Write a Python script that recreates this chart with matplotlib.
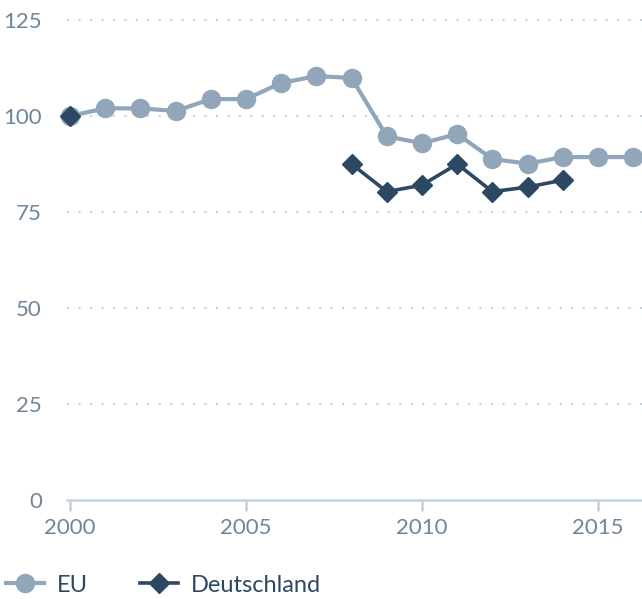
import numpy as np
import matplotlib
matplotlib.use("Agg")
import matplotlib.pyplot as plt
from matplotlib.lines import Line2D

years = list(range(2000, 2017))
eu = [100, 102, 102, 101.3, 104.4, 104.4, 108.6, 110.4, 109.9, 94.7, 92.9, 95.3, 88.8, 87.6, 89.3, 89.3, 89.3]
de = [100, np.nan, np.nan, np.nan, np.nan, np.nan, np.nan, np.nan, 87.5, 80.3, 82.0, 87.5, 80.3, 81.5, 83.3, np.nan, np.nan]
yticks = [0, 25, 50, 75, 100, 125]
xticks = [2000, 2005, 2010, 2015]
labels = ["EU", "Deutschland"]

EU_C = "#91a6b9"
DE_C = "#2c4863"
GRID_C = "#c3d1e4"
TXT_C = "#6f8599"

plt.rcParams['font.family'] = ['Lato', 'DejaVu Sans']

W, H = 642, 599
fig = plt.figure(figsize=(W/100, H/100), dpi=100)
ax = fig.add_axes([67/W, 99/H, (W-67)/W, 480/H])
x0 = 2000 - 3/35.2
ax.set_xlim(x0, 2000 + (W-70)/35.2)
ax.set_ylim(0, 125)

for v in yticks[1:]:
    ax.axhline(v, color=GRID_C, lw=1.5, ls=(0, (1, 4.5)), zorder=1, clip_on=False)

ax.plot(years, eu, color=EU_C, lw=3, marker='o', ms=13, zorder=3, clip_on=False)
ax.plot(years, de, color=DE_C, lw=2.6, marker='D', ms=10.5, zorder=4, clip_on=False)

for s in ['top', 'right', 'left']:
    ax.spines[s].set_visible(False)
ax.spines['bottom'].set_color(GRID_C)
ax.spines['bottom'].set_linewidth(1.8)

ax.set_yticks(yticks)
ax.set_yticklabels([str(v) for v in yticks])
ax.set_xticks(xticks)
ax.set_xticklabels([str(v) for v in xticks])
ax.tick_params(axis='y', length=0, pad=18, labelsize=16, labelcolor=TXT_C)
ax.tick_params(axis='x', length=8, width=1.8, color=GRID_C, pad=5, labelsize=16, labelcolor=TXT_C)

handles = [Line2D([], [], color=EU_C, lw=3, marker='o', ms=13),
           Line2D([], [], color=DE_C, lw=2.6, marker='D', ms=10.5)]
leg = fig.legend(handles, labels, loc='center left', bbox_to_anchor=(6/W, 14/H), frameon=False,
                 ncol=2, fontsize=17, handlelength=1.6, handletextpad=0.55, columnspacing=2.2,
                 borderaxespad=0.0, borderpad=0.0)
for t in leg.get_texts():
    t.set_color(DE_C)

fig.savefig("out.png", dpi=100)
